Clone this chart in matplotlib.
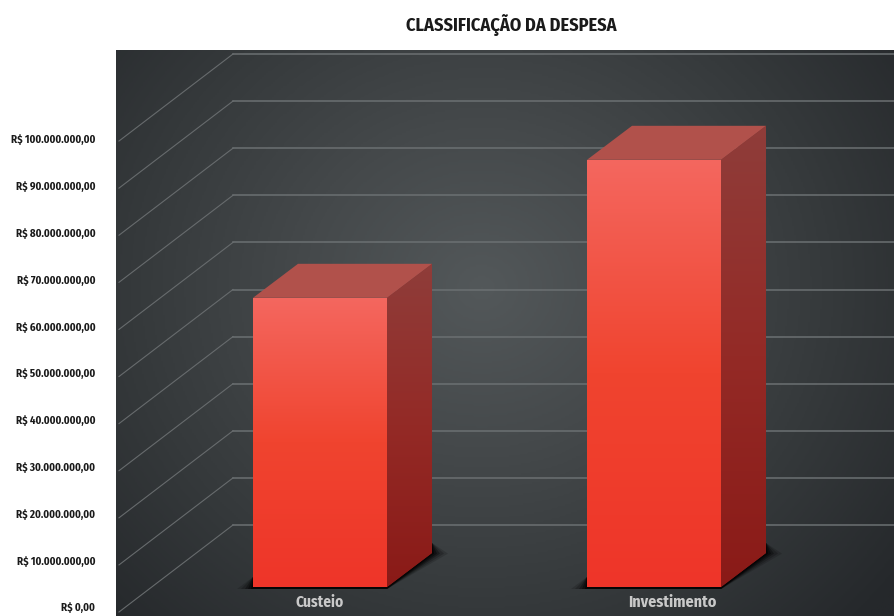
import numpy as np
import matplotlib
matplotlib.use('Agg')
import matplotlib.pyplot as plt
from matplotlib import font_manager as fm
from matplotlib.colors import LinearSegmentedColormap
from matplotlib.patches import Polygon
from matplotlib.textpath import TextPath

categorias = ['Custeio', 'Investimento']
valores = [61.4, 90.7]  # milhoes de R$
grade = [0, 10, 20, 30, 40, 50, 60, 70, 80, 90, 100]
rotulos_y = ['R$ 0,00', 'R$ 10.000.000,00', 'R$ 20.000.000,00', 'R$ 30.000.000,00',
             'R$ 40.000.000,00', 'R$ 50.000.000,00', 'R$ 60.000.000,00', 'R$ 70.000.000,00',
             'R$ 80.000.000,00', 'R$ 90.000.000,00', 'R$ 100.000.000,00']
titulo = 'CLASSIFICAÇÃO DA DESPESA'

# fonte condensada, se houver
instaladas = {f.name for f in fm.fontManager.ttflist}
fonte = 'Liberation Sans'
for nome in ['Fira Sans Condensed', 'PT Sans Narrow', 'Roboto Condensed', 'Liberation Sans Narrow']:
    if nome in instaladas:
        fonte = nome
        break
plt.rcParams['font.family'] = [fonte, 'DejaVu Sans']
prop = fm.FontProperties(family=fonte, weight='bold')


def tamanho(texto, largura_px):
    # tamanho de fonte para o texto ocupar a largura pedida
    w = TextPath((0, 0), texto, size=10, prop=prop).get_extents().width
    return 10 * largura_px * 0.72 / w


W, H = 894, 616
L, R, T, B = 116, 894, 50, 616
PX_X = 334.0   # pixels por categoria
PX_Y = 4.71    # pixels por milhao

fig = plt.figure(figsize=(W / 100, H / 100), dpi=100)
ax = fig.add_axes([L / W, 1 - B / H, (R - L) / W, (B - T) / H])
xlim = ((L - 320) / PX_X, (R - 320) / PX_X)
ylim = ((612 - B) / PX_Y, (612 - T) / PX_Y)

# fundo
yy, xx = np.mgrid[0:1:300j, 0:1:400j]
d = np.sqrt(((xx - 0.47) / 0.68) ** 2 + ((yy - 0.42) / 0.85) ** 2)
fundo = LinearSegmentedColormap.from_list('f', ['#53585a', '#45494b', '#35393b', '#25282b'])
ax.imshow(np.clip(d, 0, 1), cmap=fundo, vmin=0, vmax=1, extent=(*xlim, *ylim), aspect='auto',
          origin='upper', zorder=0)

# grade
fx0 = (119 - 320) / PX_X
bx0 = (233 - 320) / PX_X
fundo_dy = 87 / PX_Y
for g in grade:
    ax.plot([fx0, bx0], [g, g + fundo_dy], color='#676b6d', lw=0.8, zorder=1)
    ax.plot([bx0, xlim[1]], [g + fundo_dy, g + fundo_dy], color='#6b7072', lw=1.1, zorder=1)

# barras
largura = 134 / PX_X
base = 25 / PX_Y
dx = 45 / PX_X
dy = 34 / PX_Y
frente = LinearSegmentedColormap.from_list('a', ['#ee3529', '#f0442f', '#f4675f'])
lado = LinearSegmentedColormap.from_list('b', ['#8a1a17', '#942a26', '#8f3d3a'])
grad = np.linspace(0, 1, 256).reshape(-1, 1)

for i, v in enumerate(valores):
    x0 = i - largura / 2
    x1 = i + largura / 2
    topo = base + v
    # sombra
    for k, a in zip([16, 12, 8, 5, 2], [0.15, 0.2, 0.3, 0.4, 0.6]):
        e = k / PX_X
        f = 2 / PX_Y
        ax.add_patch(Polygon([(x0 - e, base - f), (x1, base - f), (x1 + dx + e, base + dy - f * 0.3),
                              (x1 + dx, base + dy + 10 / PX_Y), (x0, base + 10 / PX_Y)],
                             closed=True, fc='black', ec='none', alpha=a, zorder=2))
    b = ax.bar(i, v, width=largura, bottom=base, color='#ee3529', zorder=3)[0]
    im = ax.imshow(grad, cmap=frente, extent=(x0, x1, base, topo), aspect='auto', origin='lower', zorder=4)
    im.set_clip_path(b)
    s = Polygon([(x1, base), (x1 + dx, base + dy), (x1 + dx, topo + dy), (x1, topo)],
                closed=True, fc='#8a1a17', ec='none', zorder=3)
    ax.add_patch(s)
    im2 = ax.imshow(grad, cmap=lado, extent=(x1, x1 + dx, base, topo + dy), aspect='auto', origin='lower', zorder=4)
    im2.set_clip_path(s)
    ax.add_patch(Polygon([(x0, topo), (x1, topo), (x1 + dx, topo + dy), (x0 + dx, topo + dy)],
                         closed=True, fc='#b1514b', ec='none', zorder=4))

# rotulos das categorias
x_rotulos = [0, 352 / PX_X]
larg_rotulos = [47, 87]
for x, c, lr in zip(x_rotulos, categorias, larg_rotulos):
    ax.text(x, (612 - 602) / PX_Y, c, ha='center', va='center', color='#c9c9c9',
            fontsize=tamanho(c, lr), fontweight='bold', zorder=5)

ax.set_xlim(*xlim)
ax.set_ylim(*ylim)
ax.set_xticks([])
# rotulos y ficam um pouco acima da linha da grade
ax.set_yticks([(612 - (607 - 46.8 * i)) / PX_Y for i in range(len(rotulos_y))])
ax.set_yticklabels(rotulos_y, fontsize=tamanho(rotulos_y[-1], 85), fontweight='bold', color='#1a1a1a')
ax.tick_params(axis='y', length=0, pad=15)
for s in ax.spines.values():
    s.set_visible(False)

fig.text(511 / W, 1 - 25 / H, titulo, ha='center', va='center',
         fontsize=tamanho(titulo, 211), fontweight='bold', color='#1a1a1a')

fig.savefig('out.png', dpi=100)
